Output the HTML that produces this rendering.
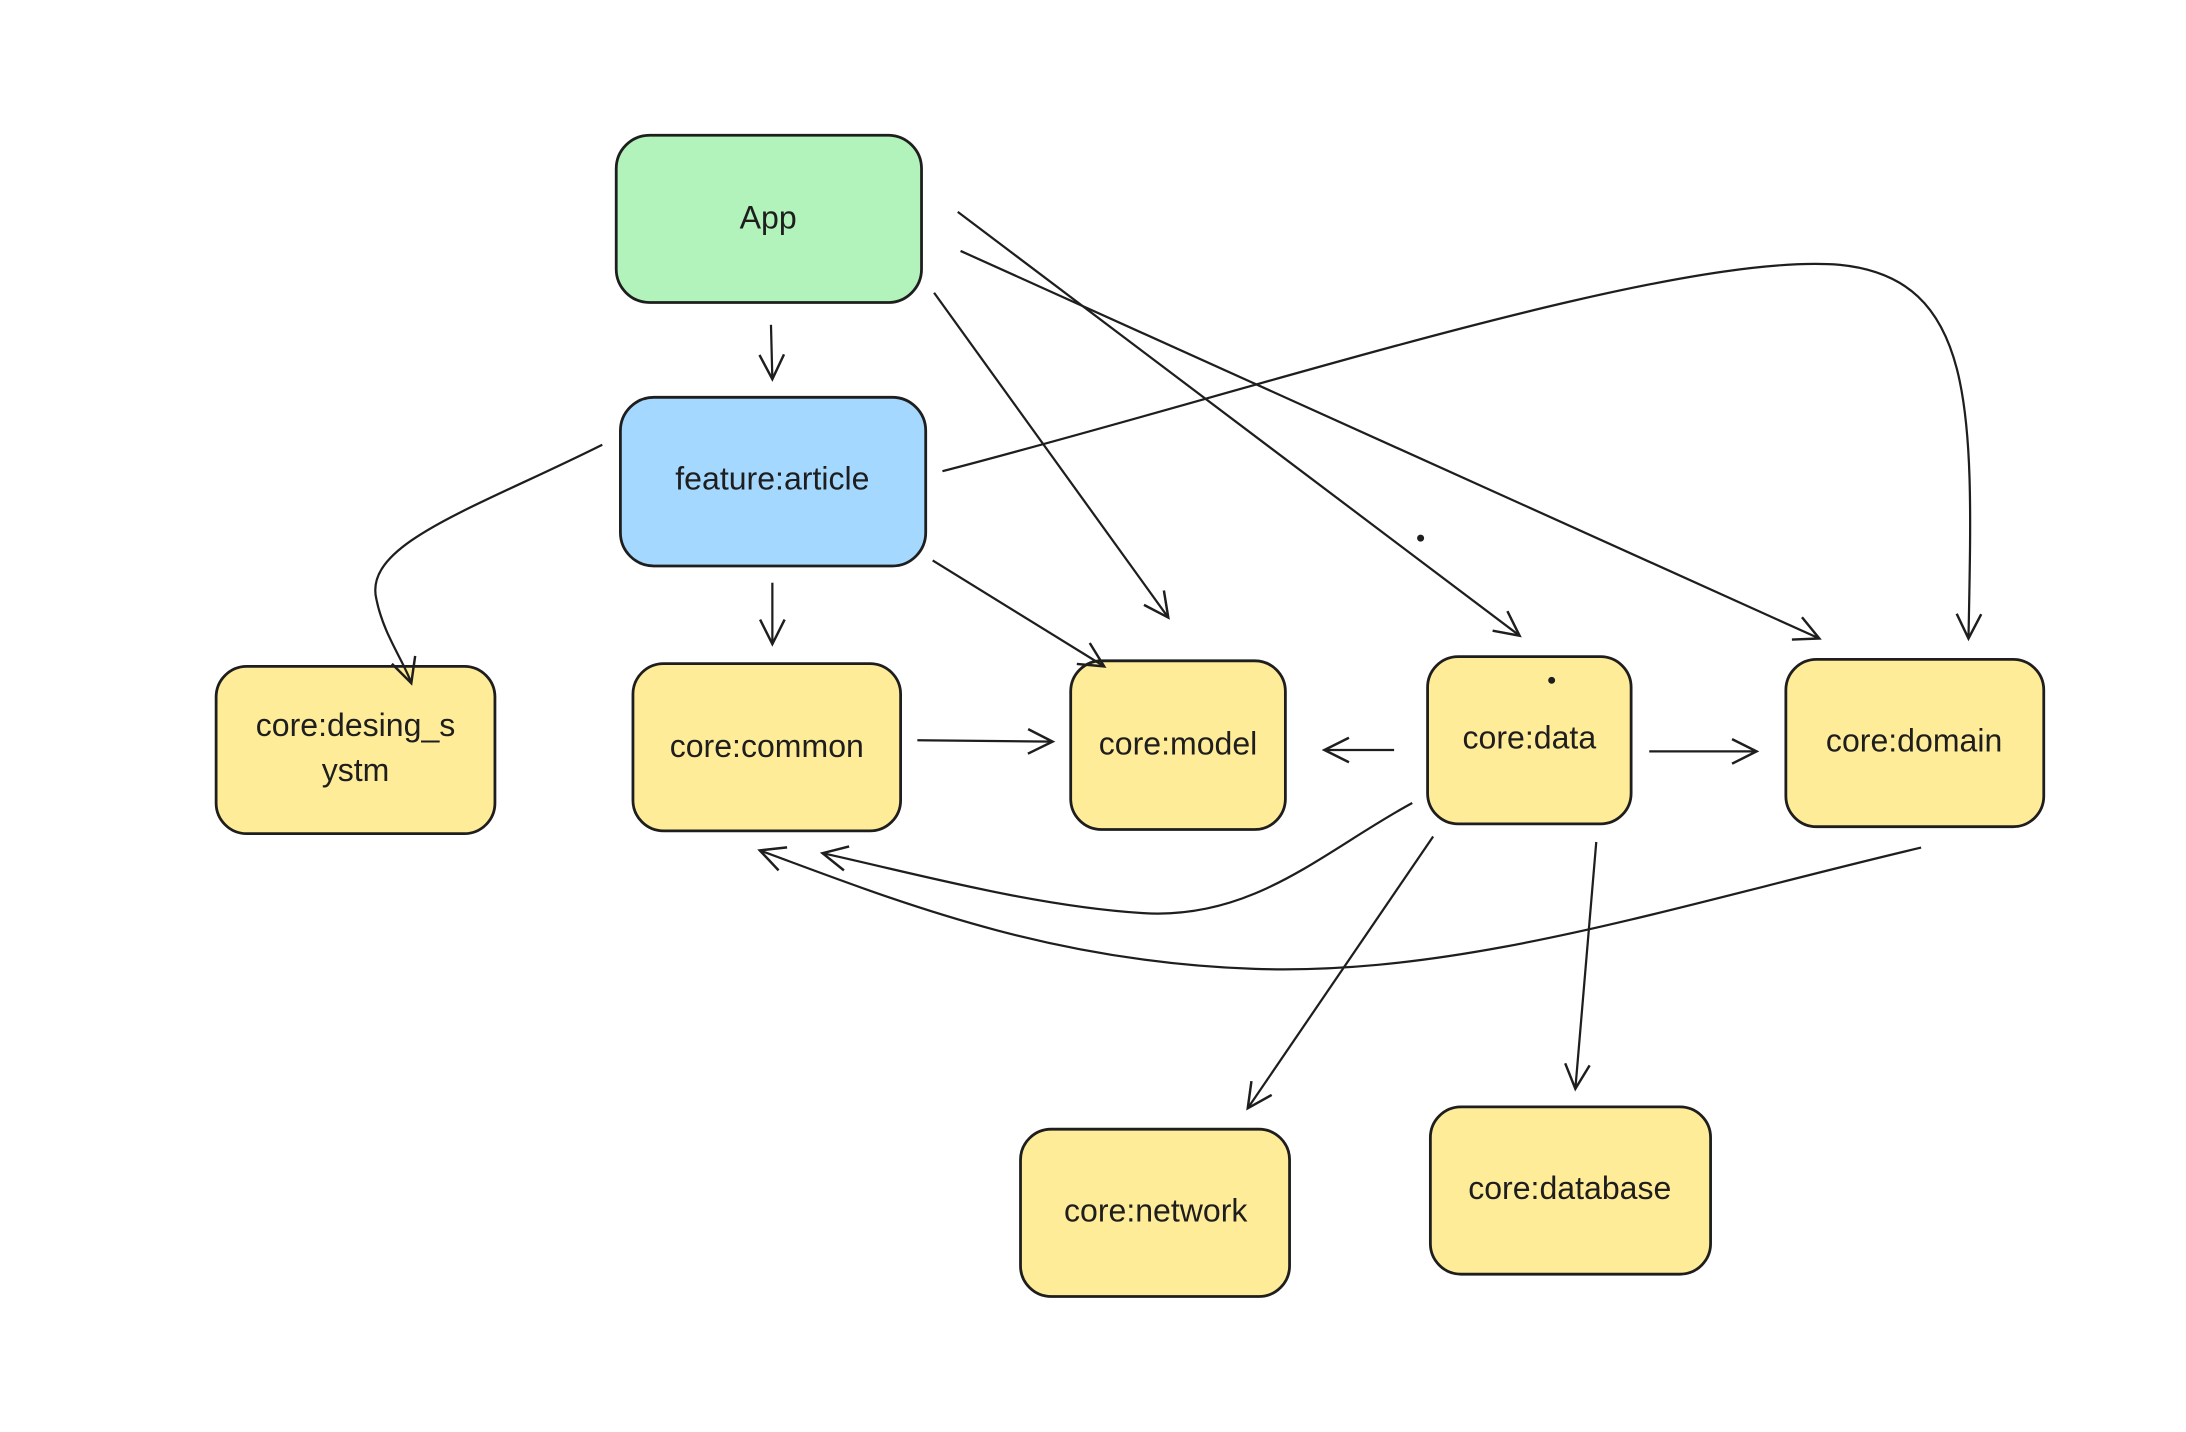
<!DOCTYPE html>
<html><head><meta charset="utf-8"><style>
html,body{margin:0;padding:0;background:#fff;}
svg{display:block}
text{font-family:"Liberation Sans",sans-serif;font-size:23px;fill:#1e1e1e;text-anchor:middle;dominant-baseline:middle}
</style></head><body>
<svg width="2186" height="1432" viewBox="0 0 1568 1027.2" xmlns="http://www.w3.org/2000/svg">
<defs>
<marker id="a" viewBox="0 0 20 20" refX="18" refY="10" markerWidth="22" markerHeight="22" markerUnits="userSpaceOnUse" orient="auto">
<polyline points="2,2 18,10 2,18" fill="none" stroke="#1e1e1e" stroke-width="1.6"/>
</marker>
</defs>
<g stroke="#1e1e1e" stroke-width="2" >
<rect x="442" y="97" width="219" height="120" rx="24" fill="#b2f2bb"/>
<rect x="445" y="285" width="219" height="121" rx="24" fill="#a5d8ff"/>
<rect x="155" y="478" width="200" height="120" rx="22" fill="#ffec99"/>
<rect x="454" y="476" width="192" height="120" rx="22" fill="#ffec99"/>
<rect x="768" y="474" width="154" height="121" rx="22" fill="#ffec99"/>
<rect x="1024" y="471" width="146" height="120" rx="22" fill="#ffec99"/>
<rect x="1281" y="473" width="185" height="120" rx="22" fill="#ffec99"/>
<rect x="732" y="810" width="193" height="120" rx="22" fill="#ffec99"/>
<rect x="1026" y="794" width="201" height="120" rx="22" fill="#ffec99"/>
</g>
<g fill="none" stroke="#1e1e1e" stroke-width="1.6" marker-end="url(#a)">
<path d="M553,233 L554,272"/>
<path d="M670,210 L838,443"/>
<path d="M687,152 L1090,456"/>
<path d="M689,180 L1305,458"/>
<path d="M676,338 C900,280 1200,180 1320,190 C1420,200 1415,300 1412,458"/>
<path d="M432,319 C340,365 260,390 270,430 C275,455 290,475 295,490"/>
<path d="M554,418 L554,462"/>
<path d="M669,402 L792,478"/>
<path d="M658,531 L755,532"/>
<path d="M1000,538 L950,538"/>
<path d="M1183,539 L1260,539"/>
<path d="M1013,576 C950,610 900,660 820,655 C740,650 650,625 590,612"/>
<path d="M1378,608 C1200,650 1050,700 900,695 C750,690 640,645 545,610"/>
<path d="M1028,600 L895,795"/>
<path d="M1145,604 L1130,781"/>
</g>
<circle cx="1019" cy="386" r="2.5" fill="#1e1e1e"/>
<circle cx="1113" cy="488" r="2.5" fill="#1e1e1e"/>
<text x="551" y="158">App</text>
<text x="554" y="345">feature:article</text>
<text x="255" y="522">core:desing_s</text>
<text x="255" y="554">ystm</text>
<text x="550" y="537">core:common</text>
<text x="845" y="535">core:model</text>
<text x="1097" y="531">core:data</text>
<text x="1373" y="533">core:domain</text>
<text x="829" y="870">core:network</text>
<text x="1126" y="854">core:database</text>
</svg>
</body></html>
